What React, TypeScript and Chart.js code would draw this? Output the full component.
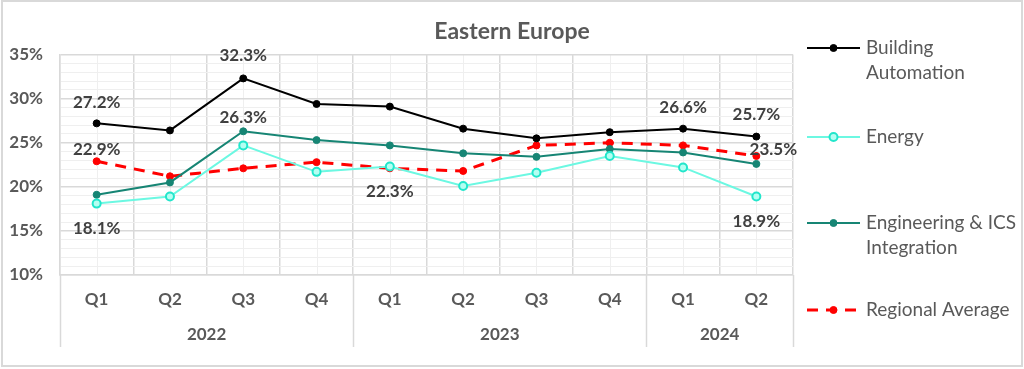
import React, { useEffect, useRef } from 'react';
import { Chart, registerables } from 'chart.js';

Chart.register(...registerables);

// ---- Data ----
const quarterLabels = ['Q1', 'Q2', 'Q3', 'Q4', 'Q1', 'Q2', 'Q3', 'Q4', 'Q1', 'Q2'];
const yearLabels = ['2022', '2023', '2024'];
const yearSpans = [4, 4, 2];

const buildingAutomation = [27.2, 26.4, 32.3, 29.4, 29.1, 26.6, 25.5, 26.2, 26.6, 25.7];
const energy = [18.1, 18.9, 24.7, 21.7, 22.3, 20.1, 21.6, 23.5, 22.2, 18.9];
const engineeringIcs = [19.1, 20.5, 26.3, 25.3, 24.7, 23.8, 23.4, 24.3, 23.9, 22.6];
const regionalAverage = [22.9, 21.2, 22.1, 22.8, 22.1, 21.8, 24.7, 25.0, 24.7, 23.5];

const seriesNames = ['Building Automation', 'Energy', 'Engineering & ICS Integration', 'Regional Average'];
const legendLines = [['Building', 'Automation'], ['Energy'], ['Engineering & ICS', 'Integration'], ['Regional Average']];

const yMin = 10;
const yMax = 35;
const yMajorStep = 5;

// which points carry a value label: [datasetIndex, pointIndex, dx, dy]
const labelSpecs: [number, number, number, number][] = [
  [0, 0, 0, -21],
  [0, 2, 0, -23],
  [0, 8, 0, -21],
  [0, 9, 0, -22],
  [1, 0, 0, 25],
  [1, 4, 0, 25],
  [1, 9, 0, 25],
  [2, 2, 0, -14],
  [3, 0, 0, -12],
  [3, 9, 17, -6],
];

const FONT = 'Lato, "Open Sans", sans-serif';
const GREY = '#595959';
const LABEL_GREY = '#404040';
const MAJOR_GRID = '#d9d9d9';
const MINOR_GRID = '#efefef';

const colors = {
  ba: '#000000',
  energy: '#6CF8E2',
  energyPoint: '#22E6CB',
  energyFill: '#B4FFF2',
  eng: '#168574',
  reg: '#FF0000',
};

const chartPlugin = {
  id: 'excelLook',
  beforeDraw(chart: any) {
    const { ctx, chartArea, scales } = chart;
    ctx.save();
    ctx.fillStyle = '#ffffff';
    ctx.fillRect(0, 0, chart.width, chart.height);
    // minor vertical grid lines at category centres
    const xs = scales.x;
    ctx.strokeStyle = MINOR_GRID;
    ctx.lineWidth = 1;
    for (let i = 0; i < quarterLabels.length; i++) {
      const px = Math.round(xs.getPixelForValue(i)) + 0.5;
      ctx.beginPath();
      ctx.moveTo(px, chartArea.top);
      ctx.lineTo(px, chartArea.bottom);
      ctx.stroke();
    }
    ctx.restore();
  },
  afterDatasetsDraw(chart: any) {
    const { ctx } = chart;
    ctx.save();
    ctx.font = `bold 17px ${FONT}`;
    ctx.fillStyle = LABEL_GREY;
    ctx.textAlign = 'center';
    ctx.textBaseline = 'middle';
    labelSpecs.forEach(([di, pi, dx, dy]) => {
      const meta = chart.getDatasetMeta(di);
      const el = meta.data[pi];
      const v = chart.data.datasets[di].data[pi];
      ctx.fillText(`${v.toFixed(1)}%`, el.x + dx, el.y + dy);
    });
    ctx.restore();
  },
  afterDraw(chart: any) {
    const { ctx, chartArea, scales } = chart;
    const xs = scales.x;
    ctx.save();
    // year row: separators and labels
    const step = xs.getPixelForValue(1) - xs.getPixelForValue(0);
    const edge = (i: number) => xs.getPixelForValue(i) - step / 2;
    const bottom = 347;
    ctx.strokeStyle = MAJOR_GRID;
    ctx.lineWidth = 1.5;
    let start = 0;
    const bounds = [0];
    yearSpans.forEach((s) => {
      start += s;
      bounds.push(start);
    });
    bounds.forEach((b) => {
      const px = Math.round(edge(b)) + 0.5;
      ctx.beginPath();
      ctx.moveTo(px, chartArea.bottom);
      ctx.lineTo(px, bottom);
      ctx.stroke();
    });
    ctx.font = `bold 17px ${FONT}`;
    ctx.fillStyle = GREY;
    ctx.textAlign = 'center';
    ctx.textBaseline = 'middle';
    yearLabels.forEach((y, i) => {
      const cx = (edge(bounds[i]) + edge(bounds[i + 1])) / 2;
      ctx.fillText(y, cx, 335);
    });

    // legend
    const datasets = chart.data.datasets;
    const legendY = [48, 137, 223, 310];
    const x0 = 807;
    const x1 = 860;
    const tx = 866;
    const lineGap = 25;
    ctx.font = `19px ${FONT}`;
    ctx.textAlign = 'left';
    legendLines.forEach((lines, i) => {
      const ds = datasets[i];
      const y = legendY[i];
      ctx.save();
      ctx.strokeStyle = ds.borderColor;
      ctx.lineWidth = ds.borderWidth;
      ctx.setLineDash(ds.borderDash || []);
      ctx.beginPath();
      ctx.moveTo(x0, y);
      ctx.lineTo(x1, y);
      ctx.stroke();
      ctx.setLineDash([]);
      ctx.beginPath();
      ctx.arc((x0 + x1) / 2, y, ds.pointRadius, 0, Math.PI * 2);
      ctx.fillStyle = ds.pointBackgroundColor;
      ctx.fill();
      ctx.lineWidth = ds.pointBorderWidth;
      ctx.strokeStyle = ds.pointBorderColor;
      ctx.stroke();
      ctx.restore();
      ctx.fillStyle = GREY;
      lines.forEach((t, li) => ctx.fillText(t, tx, y + li * lineGap));
    });

    // outer frame
    ctx.strokeStyle = MAJOR_GRID;
    ctx.lineWidth = 2;
    ctx.strokeRect(2, 1, 1020, 365);
    ctx.restore();
  },
};

export default function App() {
  const canvasRef = useRef<HTMLCanvasElement | null>(null);

  useEffect(() => {
    const canvas = canvasRef.current;
    if (!canvas) return;
    const chart = new Chart(canvas, {
      type: 'line',
      data: {
        labels: quarterLabels,
        datasets: [
          {
            label: seriesNames[0],
            data: buildingAutomation,
            borderColor: colors.ba,
            backgroundColor: colors.ba,
            borderWidth: 2,
            pointRadius: 3.5,
            pointBackgroundColor: colors.ba,
            pointBorderColor: colors.ba,
            pointBorderWidth: 1,
            tension: 0,
          },
          {
            label: seriesNames[1],
            data: energy,
            borderColor: colors.energy,
            backgroundColor: colors.energy,
            borderWidth: 2,
            pointRadius: 4,
            pointBackgroundColor: colors.energyFill,
            pointBorderColor: colors.energyPoint,
            pointBorderWidth: 2,
            tension: 0,
          },
          {
            label: seriesNames[2],
            data: engineeringIcs,
            borderColor: colors.eng,
            backgroundColor: colors.eng,
            borderWidth: 2,
            pointRadius: 3.5,
            pointBackgroundColor: colors.eng,
            pointBorderColor: colors.eng,
            pointBorderWidth: 1,
            tension: 0,
          },
          {
            label: seriesNames[3],
            data: regionalAverage,
            borderColor: colors.reg,
            backgroundColor: colors.reg,
            borderWidth: 3,
            borderDash: [11, 8],
            pointRadius: 3.5,
            pointBackgroundColor: colors.reg,
            pointBorderColor: colors.reg,
            pointBorderWidth: 1,
            tension: 0,
          },
        ],
      },
      options: {
        animation: false,
        responsive: false,
        maintainAspectRatio: false,
        layout: { padding: { left: 0, right: 0, top: 0, bottom: 0 } },
        plugins: {
          legend: { display: false },
          tooltip: { enabled: false },
          title: {
            display: true,
            text: 'Eastern Europe',
            color: GREY,
            font: { family: FONT, size: 23, weight: 'bold' },
            padding: { top: 18, bottom: 9 },
          },
        },
        scales: {
          x: {
            type: 'category',
            offset: true,
            grid: { offset: true, color: MAJOR_GRID, drawTicks: false, lineWidth: 1.5 },
            border: { color: MAJOR_GRID, width: 1.5 },
            ticks: {
              color: GREY,
              font: { family: FONT, size: 17, weight: 'bold' },
              padding: 14,
              autoSkip: false,
              maxRotation: 0,
            },
            afterFit: (s: any) => {
              s.height = 94;
            },
          },
          y: {
            type: 'linear',
            min: yMin,
            max: yMax,
            ticks: {
              stepSize: 1,
              autoSkip: false,
              maxTicksLimit: 40,
              color: GREY,
              font: { family: FONT, size: 17, weight: 'bold' },
              padding: 17,
              callback: (v: any) => (Number(v) % yMajorStep === 0 ? `${v}%` : ''),
            },
            grid: {
              drawTicks: false,
              color: (c: any) => (c.tick && c.tick.value % yMajorStep === 0 ? MAJOR_GRID : MINOR_GRID),
              lineWidth: (c: any) => (c.tick && c.tick.value % yMajorStep === 0 ? 1.5 : 1),
            },
            border: { color: MAJOR_GRID, width: 1.5 },
            afterFit: (s: any) => {
              s.width = 60;
            },
          },
          legendSpace: {
            type: 'linear',
            position: 'right',
            display: true,
            grid: { display: false, drawOnChartArea: false, drawTicks: false },
            border: { display: false },
            ticks: { display: false },
            afterFit: (s: any) => {
              s.width = 231;
            },
          },
        },
      },
      plugins: [chartPlugin],
    });
    return () => chart.destroy();
  }, []);

  return (
    <div style={{ position: 'absolute', left: 0, top: 0, width: 1024, height: 369, background: '#fff' }}>
      <canvas ref={canvasRef} width={1024} height={369} style={{ display: 'block', width: 1024, height: 369 }} />
    </div>
  );
}
